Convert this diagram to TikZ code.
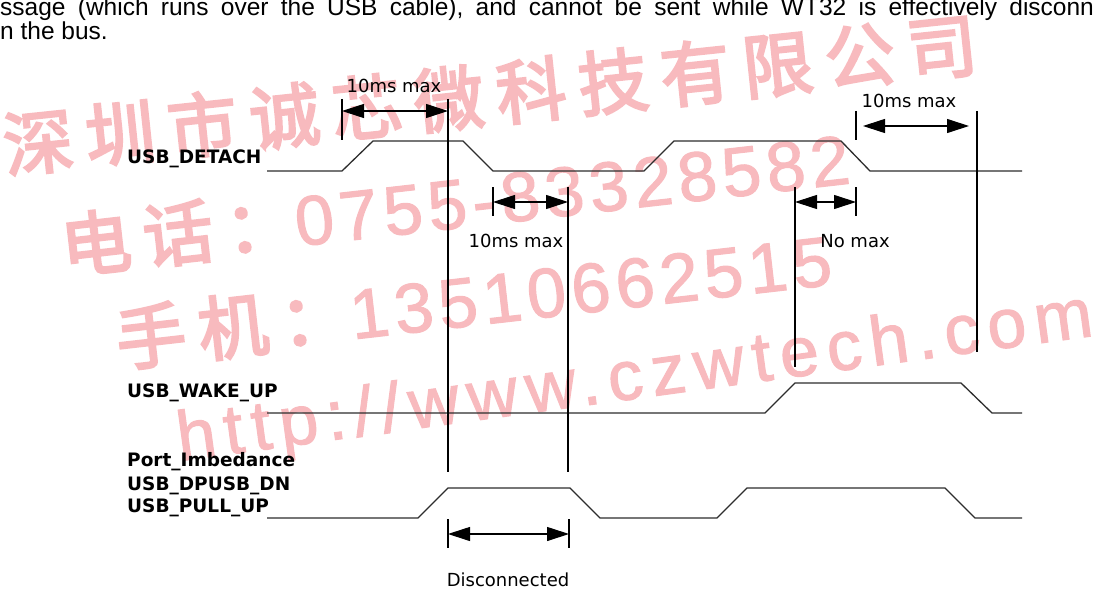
\documentclass[tikz,border=0pt]{standalone}
\usepackage{fontspec}
\setmainfont{DejaVu Sans}
\newfontfamily\parafont{Liberation Sans}
\newfontfamily\wmcjk[LetterSpace=18,FakeBold=3.5]{Noto Sans CJK SC}
\newfontfamily\wmlat[LetterSpace=12,FakeBold=1.5]{Liberation Sans}
\newfontfamily\wmdig[LetterSpace=8,FakeBold=1.5]{Liberation Sans}
\usetikzlibrary{arrows.meta}
\definecolor{wmpink}{RGB}{248,186,190}
\definecolor{sigcol}{RGB}{45,45,45}
\begin{document}
\begin{tikzpicture}[x=1pt,y=-1pt,
  sig/.style={line width=1.3pt, draw=sigcol, line join=miter},
  guide/.style={line width=1.1pt, draw=black},
  dimarrow/.style={line width=1.1pt, draw=black, {Triangle[length=22pt,width=14pt]}-{Triangle[length=22pt,width=14pt]}},
  lbl/.style={font=\fontsize{18.5}{20}\selectfont\bfseries, anchor=base west, inner sep=0pt},
  txt/.style={font=\fontsize{18}{20}\selectfont, anchor=base, inner sep=0pt},
  wm/.style={text=wmpink, font=\fontsize{70}{80}\selectfont, anchor=base west, inner sep=0pt},
  para/.style={font=\parafont\fontsize{24.5}{28}\selectfont, anchor=base west, inner sep=0pt}
]
\useasboundingbox (0,0) rectangle (1105,591);
\fill[white] (0,0) rectangle (1105,591);

% watermark and cropped paragraph
\begin{scope}
\clip (0,0) rectangle (1105,591);
\node[wm, rotate=6] (wm1) at (6,172) {\wmcjk 深圳市诚芯微科技有限公司};
\node[wm, rotate=6.5] (wm2) at (64,273) {{\wmcjk 电话：}\wmdig 0755-83328582};
\node[wm, rotate=6.5] (wm3) at (119,366) {{\wmcjk 手机：}\wmdig 13510662515};
\node[wm, rotate=7.8] (wm4) at (180,461) {\wmlat http://www.czwtech.com};
\node[para] (p1) at (0,16) {\spaceskip=12.3pt\relax ssage (which runs over the USB cable), and cannot be sent while WT32 is effectively disconn};
\node[para] (p2) at (0,39.3) {n the bus.};
\end{scope}

% signal labels
\node[lbl] (lDet) at (127,163) {USB\_DETACH};
\node[lbl] (lWake) at (127,397) {USB\_WAKE\_UP};
\node[lbl] (lPort) at (127,466) {Port\_Imbedance};
\node[lbl] (lDp) at (127,490) {USB\_DPUSB\_DN};
\node[lbl] (lPull) at (127,512) {USB\_PULL\_UP};

% waveforms
\draw[sig] (267,171) -- (342,171) -- (373,141) -- (463,141) -- (493,171) -- (644,171) -- (674,141) -- (841,141) -- (870,171) -- (1022,171);
\draw[sig] (267,413) -- (765,413) -- (795,383) -- (961,383) -- (992,413) -- (1022,413);
\draw[sig] (267,518) -- (418,518) -- (448,488) -- (570,488) -- (600,518) -- (717,518) -- (747,488) -- (945,488) -- (975,518) -- (1022,518);

% guide lines
\coordinate (g1t) at (342,99);  \coordinate (g1b) at (342,140);
\coordinate (g2t) at (448,99);  \coordinate (g2b) at (448,472);
\coordinate (g3t) at (493,187); \coordinate (g3b) at (493,216);
\coordinate (g4t) at (568,187); \coordinate (g4b) at (568,472);
\coordinate (g5t) at (795,187); \coordinate (g5b) at (795,367);
\coordinate (g6t) at (856,111); \coordinate (g6m) at (856,140);
\coordinate (g6u) at (856,187); \coordinate (g6l) at (856,216);
\coordinate (g7t) at (977,111); \coordinate (g7b) at (977,352);
\coordinate (g8t) at (448,519); \coordinate (g8b) at (448,548);
\coordinate (g9t) at (569,519); \coordinate (g9b) at (569,548);
\foreach \a/\b in {g1t/g1b,g2t/g2b,g3t/g3b,g4t/g4b,g5t/g5b,g6t/g6m,g6u/g6l,g7t/g7b,g8t/g8b,g9t/g9b}
  \draw[guide] (\a) -- (\b);

% dimension arrows
\coordinate (a1l) at (342,111); \coordinate (a1r) at (448,111);
\coordinate (a2l) at (493,202); \coordinate (a2r) at (568,202);
\coordinate (a3l) at (795,202); \coordinate (a3r) at (856,202);
\coordinate (a4l) at (863,126); \coordinate (a4r) at (969,126);
\coordinate (a5l) at (448,534); \coordinate (a5r) at (569,534);
\draw[dimarrow] (a1l) -- (a1r);
\draw[dimarrow] (a2l) -- (a2r);
\draw[dimarrow] (a3l) -- (a3r);
\draw[dimarrow] (a4l) -- (a4r);
\draw[dimarrow] (a5l) -- (a5r);

% dimension texts
\node[txt] (t1) at (394,93) {10ms max};
\node[txt] (t2) at (516,247) {10ms max};
\node[txt] (t3) at (855,247) {No max};
\node[txt] (t4) at (909,108) {10ms max};
\node[txt] (t5) at (508,586) {Disconnected};
\end{tikzpicture}
\end{document}
